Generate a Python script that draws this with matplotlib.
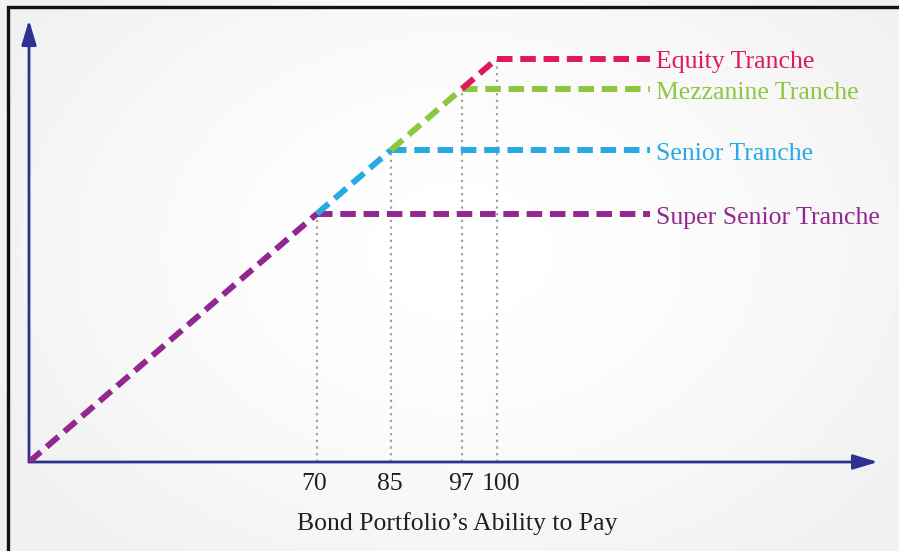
import numpy as np
import matplotlib.pyplot as plt
from matplotlib.patches import Rectangle

# Tranche attachment points (portfolio ability to pay)
tranche_names = ['Super Senior Tranche', 'Senior Tranche', 'Mezzanine Tranche', 'Equity Tranche']
tranche_levels = [70, 85, 97, 100]
tranche_colors = ['#92278F', '#27AAE1', '#8DC63F', '#E0195F']
tick_values = [70, 85, 97, 100]
line_end = 130
x_title = "Bond Portfolio\u2019s Ability to Pay"

# schematic (non-linear) axis: value -> horizontal offset
knots_v = [0, 70, 85, 97, 100, 130, 300]
knots_p = [0, 288, 362, 433, 468, 621, 621 + 170 * 5.1]


def fwd(v):
    return np.interp(v, knots_v, knots_p)


def inv(p):
    return np.interp(p, knots_p, knots_v)


W, H = 899, 551
fig = plt.figure(figsize=(W / 100, H / 100), dpi=100)

# soft radial background
bg = fig.add_axes([0, 0, 1, 1])
yy, xx = np.mgrid[0:H, 0:W]
r = np.sqrt(((xx - 460) / 520.0) ** 2 + ((yy - 250) / 380.0) ** 2)
shade = 1.0 - 0.055 * np.clip(r, 0, 1) ** 1.5
bg.imshow(shade, cmap='gray', vmin=0, vmax=1, aspect='auto', extent=[0, 1, 0, 1])
bg.axis('off')

# frame
fig.add_artist(Rectangle((8 / W, -0.2), 1.1, 1.2 - 7 / H, transform=fig.transFigure,
                         fill=False, lw=2.4, ec='#111111'))

ox, oy = 29, 462
ax = fig.add_axes([ox / W, (H - oy) / H, 849 / W, 442 / H])
ax.set_xscale('function', functions=(fwd, inv))
ax.set_yscale('function', functions=(fwd, inv))
ax.set_xlim(0, inv(849))
ax.set_ylim(0, inv(442 / 0.862))
ax.axis('off')

navy = '#2E3192'
ax.annotate('', xy=(1.0, 0), xytext=(0, 0), xycoords='axes fraction',
            arrowprops=dict(arrowstyle='-|>,head_length=1.5,head_width=0.45',
                            color=navy, lw=2.0, shrinkA=0, shrinkB=0))
ax.annotate('', xy=(0, 1.0), xytext=(0, 0), xycoords='axes fraction',
            arrowprops=dict(arrowstyle='-|>,head_length=1.5,head_width=0.45',
                            color=navy, lw=2.0, shrinkA=0, shrinkB=0))

# dotted guides
for v in tick_values:
    ax.plot([v, v], [0, v], color='#a0a0a0', lw=1.6, ls=(0, (1, 2)), zorder=2)

dash = (0, (2.6, 1.3))
lw = 4.3
prev = 0
for name, lvl, col in zip(tranche_names, tranche_levels, tranche_colors):
    ax.plot([lvl, line_end], [lvl, lvl], color=col, lw=lw, ls=dash,
            solid_capstyle='butt', dash_capstyle='butt', zorder=3)
    ax.plot([prev, lvl], [prev, lvl], color=col, lw=lw, ls=dash,
            dash_capstyle='butt', zorder=4)
    ax.annotate(name, xy=(inv(627), lvl), xytext=(0, -1), textcoords='offset points',
                color=col, fontsize=18.5, family='Liberation Serif',
                va='center_baseline', ha='left')
    prev = lvl

# small horizontal nudges so the crowded labels don't touch
nudge = {70: -2, 85: -1, 97: -1, 100: 3}
for v in tick_values:
    ax.annotate(str(v), xy=(v, 0), xytext=(nudge.get(v, 0), -8), textcoords='offset points',
                ha='center', va='top', fontsize=18.5, family='Liberation Serif', color='#231F20')

fig.text(457 / W, 1 - 524 / H, x_title, ha='center', va='center', fontsize=18.5,
         family='Liberation Serif', color='#231F20')

fig.savefig('out.png', dpi=100)
